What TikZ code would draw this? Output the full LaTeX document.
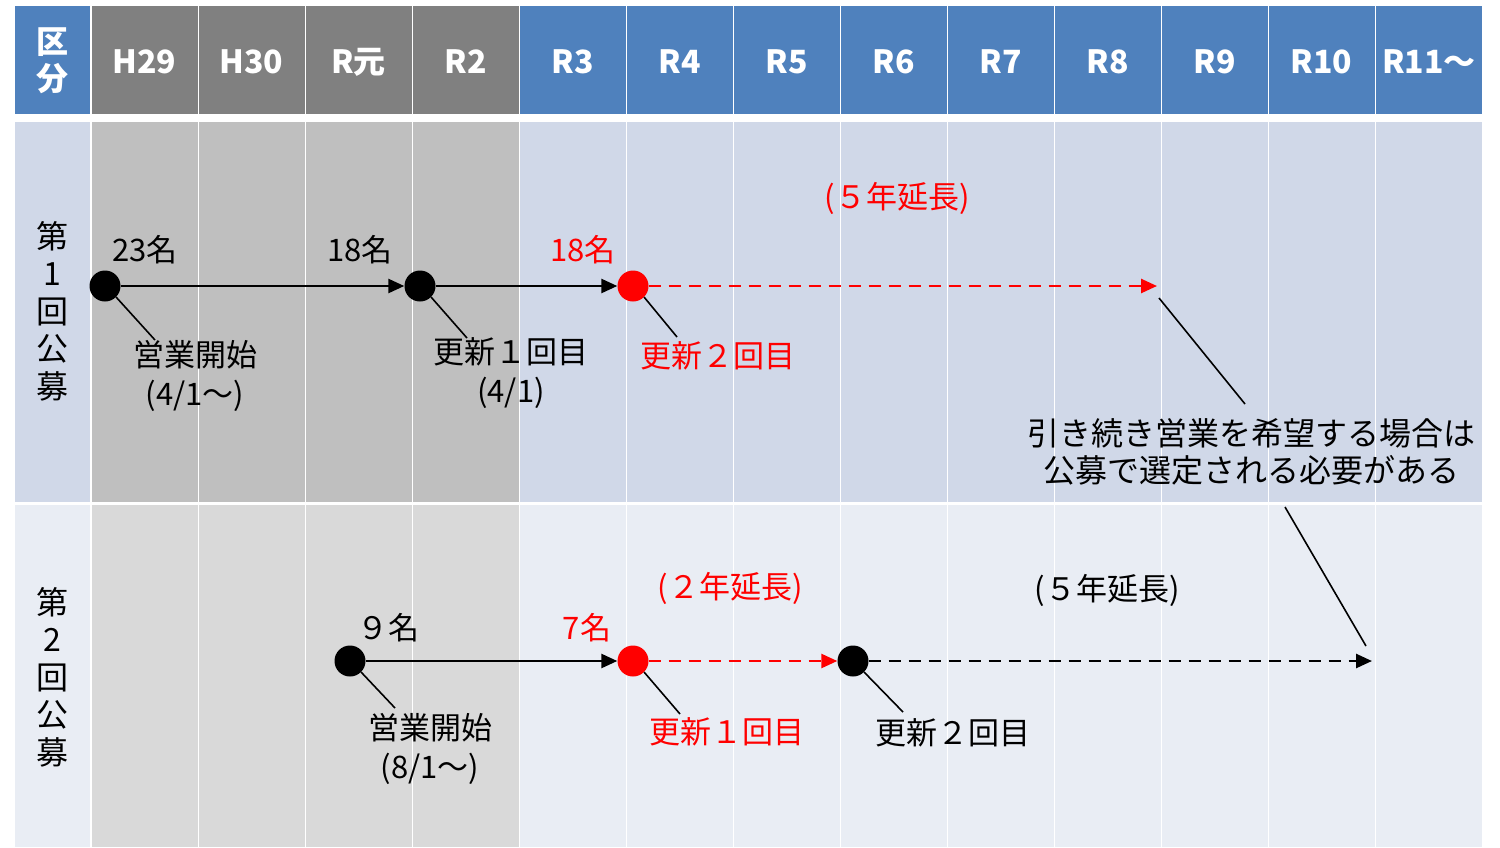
\documentclass[tikz,border=0pt]{standalone}
\usepackage{fontspec}
\setmainfont{Noto Sans CJK JP}
\usetikzlibrary{arrows.meta}
\definecolor{hblue}{HTML}{4F81BD}
\definecolor{hgray}{HTML}{808080}
\definecolor{ablue}{HTML}{D0D8E8}
\definecolor{agray}{HTML}{BFBFBF}
\definecolor{bblue}{HTML}{E9EDF4}
\definecolor{bgray}{HTML}{D9D9D9}
\definecolor{myred}{HTML}{FF0000}
\tikzset{
  hdr/.style={text=white,font=\fontsize{32}{34}\selectfont\bfseries,inner sep=0pt},
  lbl/.style={font=\fontsize{31}{39}\selectfont,inner sep=0pt,align=center},
  dotb/.style={circle,fill=black,minimum size=31pt,inner sep=0pt},
  dotr/.style={circle,fill=myred,minimum size=31pt,inner sep=0pt},
  arr/.style={line width=2.6pt,-{Triangle[length=16pt,width=14pt]}},
  dsh/.style={line width=2.6pt,dash pattern=on 12pt off 8pt,-{Triangle[length=16pt,width=14pt]}},
  lead/.style={line width=1.6pt}
}
\begin{document}
\begin{tikzpicture}[x=1pt,y=-1pt]
\useasboundingbox (0,0) rectangle (1500,847);
\fill[white] (0,0) rectangle (1500,847);
% first column
\fill[hblue] (15,6) rectangle (89.5,114);
\fill[ablue] (15,122) rectangle (89.5,502);
\fill[bblue] (15,505) rectangle (89.5,847);
% grid cells
\foreach \i in {0,...,12}{
  \pgfmathsetmacro\xl{92+107*\i}
  \pgfmathsetmacro\xr{90.5+107*(\i+1)}
  \ifnum\i<4
    \fill[hgray] (\xl,6) rectangle (\xr,114);
    \fill[agray] (\xl,122) rectangle (\xr,502);
    \fill[bgray] (\xl,505) rectangle (\xr,847);
  \else
    \fill[hblue] (\xl,6) rectangle (\xr,114);
    \fill[ablue] (\xl,122) rectangle (\xr,502);
    \fill[bblue] (\xl,505) rectangle (\xr,847);
  \fi
}
% header texts
\node[hdr,align=center,font=\fontsize{32}{37}\selectfont\bfseries] (h0) at (52,61) {区\\分};
\foreach \i/\t in {0/H29,1/H30,2/R元,3/R2,4/R3,5/R4,6/R5,7/R6,8/R7,9/R8,10/R9,11/R10}{
  \node[hdr] (hc\i) at (144.5+107*\i,62) {\t};
}
\node[hdr,anchor=west] (hc12) at (1382,62) {R11〜};
% row headers
\node[lbl,font=\fontsize{32}{37.5}\selectfont] (k1) at (52,311) {第\\1\\回\\公\\募};
\node[lbl,font=\fontsize{32}{37.5}\selectfont] (k2) at (52,677) {第\\2\\回\\公\\募};

% ---- row 1 ----
\node[dotb] (a1) at (105,286) {};
\node[dotb] (a2) at (420,286) {};
\node[dotr] (a3) at (633,286) {};
\coordinate (a4) at (1157,286);
\draw[arr] (a1) -- (a2);
\draw[arr] (a2) -- (a3);
\draw[dsh,myred] (a3) -- (a4);

\node[lbl] (n1) at (145,250) {23名};
\node[lbl] (n2) at (360,250) {18名};
\node[lbl,text=myred] (n3) at (583,250) {18名};
\node[lbl,text=myred] (y1) at (897,198) {(５年延長)};

\node[lbl] (l1) at (195,376) {営業開始\\(4/1〜)};
\node[lbl] (l2) at (511,373) {更新１回目\\(4/1)};
\node[lbl,text=myred] (l3) at (718,356) {更新２回目};
\coordinate (c1) at (155,340);
\coordinate (c2) at (467,338);
\coordinate (c3) at (677,337);
\draw[lead] (a1.-45) -- (c1);
\draw[lead] (a2.-45) -- (c2);
\draw[lead] (a3.-45) -- (c3);

% callout
\node[lbl,font=\fontsize{32}{37}\selectfont] (cb) at (1251,452) {引き続き営業を希望する場合は\\公募で選定される必要がある};
\coordinate (p1) at (1159,298);
\coordinate (p2) at (1245,404);
\coordinate (p3) at (1285,507);
\coordinate (p4) at (1366,646);
\draw[lead] (p1) -- (p2);
\draw[lead] (p3) -- (p4);

% ---- row 2 ----
\node[dotb] (b1) at (350,661) {};
\node[dotr] (b2) at (633,661) {};
\node[dotb] (b3) at (853,661) {};
\coordinate (b4) at (1372,661);
\draw[arr] (b1) -- (b2);
\draw[dsh,myred] (b2) -- (b3);
\draw[dsh] (b3) -- (b4);

\node[lbl] (m1) at (388,628) {９名};
\node[lbl,text=myred] (m2) at (587,628) {7名};
\node[lbl,text=myred] (y2) at (730,588) {(２年延長)};
\node[lbl] (y3) at (1107,590) {(５年延長)};

\node[lbl] (q1) at (430,749) {営業開始\\(8/1〜)};
\node[lbl,text=myred] (q2) at (727,732) {更新１回目};
\node[lbl] (q3) at (953,733) {更新２回目};
\coordinate (d1) at (395,708);
\coordinate (d2) at (680,714);
\coordinate (d3) at (903,712);
\draw[lead] (b1.-45) -- (d1);
\draw[lead] (b2.-45) -- (d2);
\draw[lead] (b3.-45) -- (d3);
\end{tikzpicture}
\end{document}
